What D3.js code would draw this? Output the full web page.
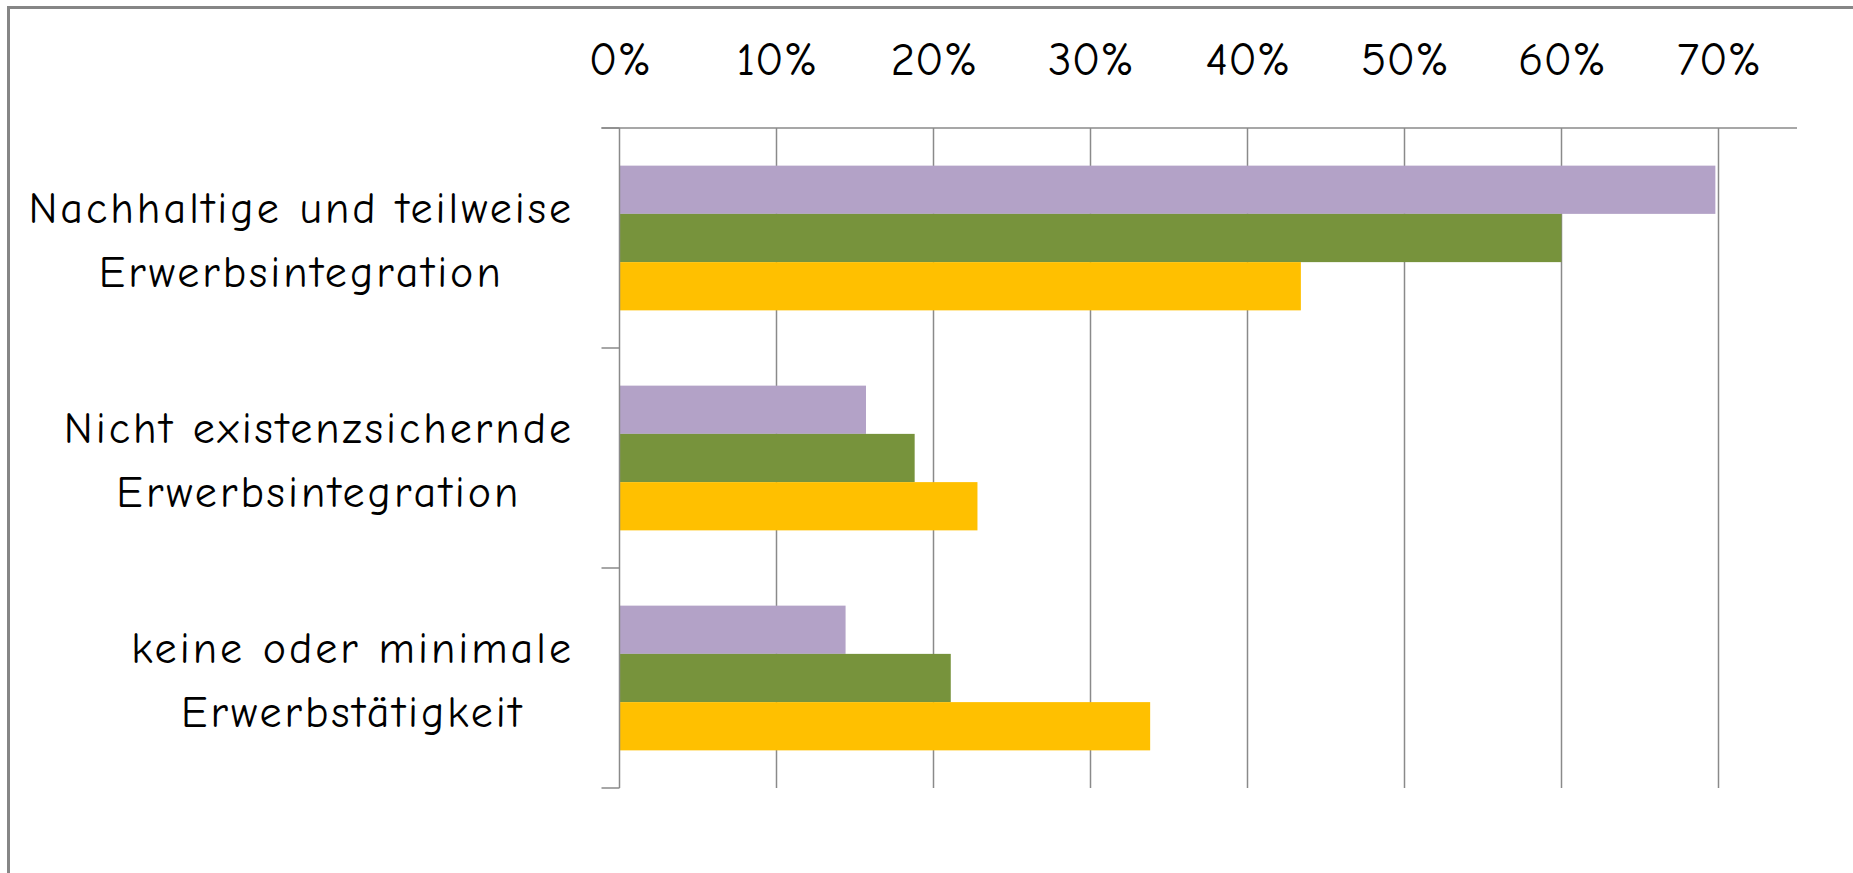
<!DOCTYPE html>
<html>
<head>
<meta charset="utf-8">
<script src="https://cdn.jsdelivr.net/npm/d3@7"></script>
<style>
  html, body { margin: 0; padding: 0; background: #fff; overflow: hidden; }
  svg { display: block; }
  .lbl { font-family: 'Comic Sans MS', 'Comic Neue', 'Open Sans', 'DejaVu Sans', sans-serif; fill: #000; }
</style>
</head>
<body>
<svg id="chart" width="1853" height="873"></svg>
<script>
// ---- data ----
const categories = [
  ["Nachhaltige und teilweise", "Erwerbsintegration"],
  ["Nicht existenzsichernde", "Erwerbsintegration"],
  ["keine oder minimale", "Erwerbstätigkeit"]
];
const seriesNames = ["Reihe 1", "Reihe 2", "Reihe 3"];
const seriesPurple = [0.698, 0.157, 0.144];
const seriesGreen  = [0.600, 0.188, 0.211];
const seriesYellow = [0.434, 0.228, 0.338];
const xTicks = [0, 0.1, 0.2, 0.3, 0.4, 0.5, 0.6, 0.7];
const xMax = 0.75;

// ---- styles ----
const colors = ["#B3A2C7", "#77933C", "#FFC000"];
const allSeries = [seriesPurple, seriesGreen, seriesYellow];
const gridColor = "#8a8a8a";

const svg = d3.select("#chart");
const plot = { left: 619.5, right: 1797, top: 128, bottom: 788 };

// frame
svg.append("rect")
  .attr("x", 8.5).attr("y", 7.5)
  .attr("width", 3000).attr("height", 3000)
  .attr("fill", "none").attr("stroke", "#868686").attr("stroke-width", 3);

const x = d3.scaleLinear().domain([0, xMax]).range([plot.left, plot.right]);
const catKeys = categories.map((c, i) => i);
const y = d3.scaleBand().domain(catKeys).range([plot.top, plot.bottom]).padding(0);
const yInner = d3.scaleBand().domain(seriesNames).range([0, y.bandwidth()])
  .paddingInner(0).paddingOuter(0.78);

// gridlines
svg.append("g").selectAll("line").data(xTicks.filter(t => t > 0)).join("line")
  .attr("x1", d => x(d)).attr("x2", d => x(d))
  .attr("y1", plot.top).attr("y2", plot.bottom)
  .attr("stroke", gridColor).attr("stroke-width", 1.5);

// bars
const barData = [];
catKeys.forEach(ci => {
  seriesNames.forEach((s, si) => {
    barData.push({ ci, s, si, v: allSeries[si][ci] });
  });
});
svg.append("g").selectAll("rect").data(barData).join("rect")
  .attr("x", x(0))
  .attr("y", d => y(d.ci) + yInner(d.s))
  .attr("width", d => x(d.v) - x(0))
  .attr("height", yInner.bandwidth())
  .attr("fill", d => colors[d.si]);

// top axis (value axis)
const xAxis = d3.axisTop(x).tickValues(xTicks).tickFormat(d3.format(".0%")).tickSize(0).tickPadding(0);
const gx = svg.append("g").attr("transform", `translate(0,${plot.top})`).call(xAxis);
gx.select(".domain").remove();
gx.selectAll(".tick text")
  .attr("class", "lbl")
  .attr("y", -53)
  .attr("font-size", 47)
  .attr("text-anchor", "middle");
svg.append("line")
  .attr("x1", plot.left - 18).attr("x2", plot.right)
  .attr("y1", plot.top).attr("y2", plot.top)
  .attr("stroke", gridColor).attr("stroke-width", 1.5);

// category axis
svg.append("line")
  .attr("x1", plot.left).attr("x2", plot.left)
  .attr("y1", plot.top).attr("y2", plot.bottom)
  .attr("stroke", gridColor).attr("stroke-width", 1.5);
const boundaries = catKeys.map(k => y(k)).concat([plot.bottom]);
svg.append("g").selectAll("line").data(boundaries).join("line")
  .attr("x1", plot.left - 18).attr("x2", plot.left)
  .attr("y1", d => d).attr("y2", d => d)
  .attr("stroke", gridColor).attr("stroke-width", 1.5);

// category labels (block right-aligned, lines centered)
const labelRight = 574;
const lg = svg.append("g");
categories.forEach((lines, ci) => {
  const cy = y(ci) + y.bandwidth() / 2;
  const texts = lines.map((ln, li) => lg.append("text")
    .attr("class", "lbl")
    .attr("font-size", 44)
    .attr("letter-spacing", 3)
    .attr("text-anchor", "middle")
    .attr("y", cy + (li === 0 ? -15 : 49))
    .text(ln));
  const w = d3.max(texts, t => t.node().getComputedTextLength());
  texts.forEach(t => t.attr("x", labelRight - w / 2));
});
</script>
</body>
</html>
